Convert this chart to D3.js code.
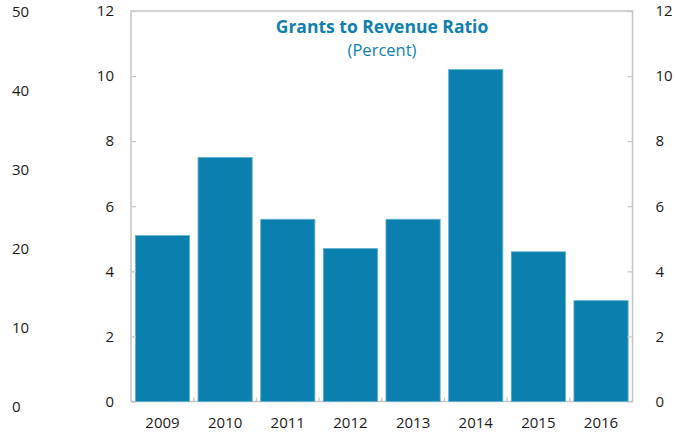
<!DOCTYPE html>
<html>
<head>
<meta charset="utf-8">
<script src="https://cdn.jsdelivr.net/npm/d3@7/dist/d3.min.js"></script>
<style>
  html, body { margin: 0; padding: 0; background: #fff; }
  svg { display: block; }
  text { font-family: "Open Sans", "Noto Sans", sans-serif; fill: #1a1a1a; }
</style>
</head>
<body>
<svg id="chart" width="676" height="440"></svg>
<script>
// Grants to revenue ratio by year (percent)
const years = ["2009", "2010", "2011", "2012", "2013", "2014", "2015", "2016"];
const ratio = [5.1, 7.5, 5.6, 4.7, 5.6, 10.2, 4.6, 3.1];
const innerTicks = [0, 2, 4, 6, 8, 10, 12];
const outerTicks = [0, 10, 20, 30, 40, 50];
const titleText = "Grants to Revenue Ratio";
const subtitleText = "(Percent)";

const svg = d3.select("#chart");
const plot = { left: 131, right: 632.5, top: 11, bottom: 401.5 };
const barColor = "#0b80af";
const frameColor = "#c6c6c6";
const titleColor = "#0e7fae";

const x = d3.scaleBand().domain(years).range([plot.left, plot.right]).paddingInner(0.135).paddingOuter(0.07);
const y = d3.scaleLinear().domain([0, 12]).range([plot.bottom, plot.top]);
const yOuter = d3.scaleLinear().domain([0, 50]).range([406.5, 11.5]);

// Frame around the plotting area
svg.append("rect")
  .attr("x", plot.left).attr("y", plot.top)
  .attr("width", plot.right - plot.left).attr("height", plot.bottom - plot.top)
  .attr("fill", "none").attr("stroke", frameColor).attr("stroke-width", 1.5);

// Bars
svg.append("g").selectAll("rect")
  .data(years)
  .join("rect")
  .attr("x", d => x(d))
  .attr("y", (d, i) => y(ratio[i]))
  .attr("width", x.bandwidth())
  .attr("height", (d, i) => y(0) - y(ratio[i]))
  .attr("fill", barColor)
  .attr("stroke", "#5fb0d2")
  .attr("stroke-width", 0.8);

// Left inner axis (0–12)
const leftAxis = d3.axisLeft(y).tickValues(innerTicks).tickSize(-5).tickPadding(17);
const gl = svg.append("g").attr("transform", `translate(${plot.left},0)`).call(leftAxis);

// Right axis (0–12)
const rightAxis = d3.axisRight(y).tickValues(innerTicks).tickSize(-5).tickPadding(23);
const gr = svg.append("g").attr("transform", `translate(${plot.right},0)`).call(rightAxis);

// Outer left axis (0–50), labels only
const outerAxis = d3.axisRight(yOuter).tickValues(outerTicks).tickSize(0).tickPadding(0);
const go = svg.append("g").attr("transform", "translate(12,0)").call(outerAxis);
go.select(".domain").remove();

// Bottom category axis with ticks between bars
const xAxis = d3.axisBottom(x).tickSize(0).tickPadding(16);
const gx = svg.append("g").attr("transform", `translate(0,${plot.bottom})`).call(xAxis);
gx.select(".domain").remove();

const boundaries = years.slice(1).map(d => x(d) - x.step() * x.paddingInner() / 2);
svg.append("g").selectAll("line")
  .data(boundaries)
  .join("line")
  .attr("x1", d => d).attr("x2", d => d)
  .attr("y1", plot.bottom).attr("y2", plot.bottom - 4)
  .attr("stroke", frameColor).attr("stroke-width", 1.2);

[gl, gr].forEach(g => {
  g.select(".domain").remove();
  g.selectAll(".tick line").attr("stroke", frameColor).attr("stroke-width", 1.2);
});
[gl, gr, go, gx].forEach(g => {
  g.selectAll("text").attr("font-size", 15).attr("fill", "#1a1a1a")
    .attr("font-family", "'Open Sans', 'Noto Sans', sans-serif");
});

// Title
svg.append("text")
  .attr("x", 382).attr("y", 33)
  .attr("text-anchor", "middle")
  .attr("font-size", 17.5).attr("font-weight", "bold")
  .style("fill", titleColor)
  .text(titleText);
svg.append("text")
  .attr("x", 382).attr("y", 56)
  .attr("text-anchor", "middle")
  .attr("font-size", 16.5)
  .style("fill", titleColor)
  .text(subtitleText);
</script>
</body>
</html>
